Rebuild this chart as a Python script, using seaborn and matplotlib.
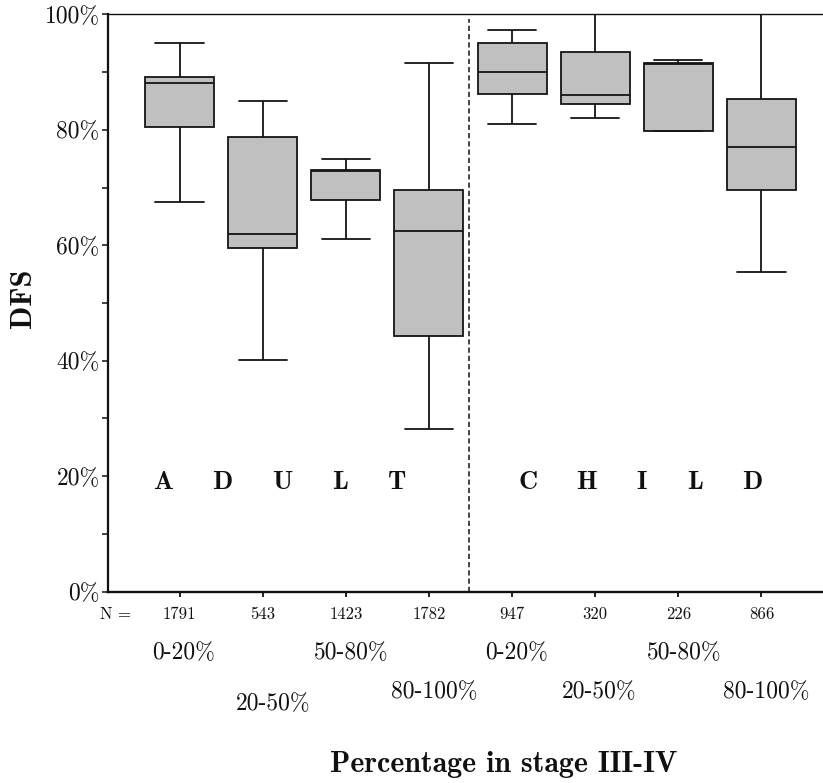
import numpy as np
import pandas as pd
import matplotlib
matplotlib.use("Agg")
import matplotlib.pyplot as plt
import seaborn as sns
from matplotlib.ticker import MultipleLocator, PercentFormatter

# ---------------- data ----------------
cohorts = ["ADULT", "ADULT", "ADULT", "ADULT", "CHILD", "CHILD", "CHILD", "CHILD"]
stage_ranges = ["0-20%", "20-50%", "50-80%", "80-100%", "0-20%", "20-50%", "50-80%", "80-100%"]
n_patients = [1791, 543, 1423, 1782, 947, 320, 226, 866]
dfs_min = [67.5, 40.2, 61.1, 28.1, 81.0, 82.1, 79.8, 55.3]
dfs_q1 = [80.5, 59.5, 67.9, 44.2, 86.2, 84.4, 79.8, 69.5]
dfs_median = [88.1, 61.9, 72.9, 62.5, 90.0, 86.0, 91.4, 77.0]
dfs_q3 = [89.2, 78.7, 73.0, 69.6, 95.0, 93.4, 91.6, 85.4]
dfs_max = [95.0, 85.0, 74.9, 91.5, 97.3, 100.0, 92.1, 100.0]
y_ticks = [0, 20, 40, 60, 80, 100]

groups = [f"{c} {r}" for c, r in zip(cohorts, stage_ranges)]
rows = []
for g, a, b, c, d, e in zip(groups, dfs_min, dfs_q1, dfs_median, dfs_q3, dfs_max):
    for v in (a, b, c, d, e):
        rows.append({"group": g, "dfs": v})
df = pd.DataFrame(rows)

# ---------------- style ----------------
sns.set_style("ticks")
plt.rcParams["font.family"] = ["cmr10", "DejaVu Serif"]
plt.rcParams["axes.unicode_minus"] = False
plt.rcParams["axes.edgecolor"] = "#111111"

W, H = 823, 783
fig = plt.figure(figsize=(W / 100, H / 100), dpi=100)
ax_left, ax_right, ax_top, ax_bot = 108, 823, 14.3, 591.7
ax = fig.add_axes([ax_left / W, 1 - ax_bot / H, (ax_right - ax_left) / W, (ax_bot - ax_top) / H])

sns.boxplot(
    data=df, x="group", y="dfs", order=groups,
    color="#c0c0c0", saturation=1, width=0.83, whis=(0, 100),
    showfliers=False, linecolor="#151515", linewidth=1.3,
    capwidths=0.58, ax=ax,
)

ax.set_xlim(-0.86, 7.74)
ax.set_ylim(0, 100)

# dashed separator between the two cohorts
ax.vlines(3.48, 0, 99.2, colors="#111111", linewidth=1.1, linestyles=(0, (3.4, 2.0)))

# spines
ax.spines["right"].set_visible(False)
ax.spines["top"].set_linewidth(1.0)
ax.spines["left"].set_linewidth(1.6)
ax.spines["bottom"].set_linewidth(1.7)

# ticks
ax.set_xticks(range(len(groups)))
ax.set_xticklabels([str(n) for n in n_patients])
ax.yaxis.set_major_locator(MultipleLocator(20))
ax.yaxis.set_minor_locator(MultipleLocator(10))
ax.set_yticks(y_ticks)
ax.yaxis.set_major_formatter(PercentFormatter(xmax=100, decimals=0))
ax.tick_params(axis="x", direction="out", length=3.8, width=1.3, pad=7, labelsize=12, colors="#111111")
ax.tick_params(axis="y", which="both", direction="out", length=4, width=1.1, pad=2, labelsize=17, colors="#111111")
ax.set_xlabel("")
ax.set_ylabel("")

xt = ax.get_xaxis_transform()
def ay(px):
    return (ax_bot - px) / (ax_bot - ax_top)

# "N =" prefix for the counts row
ax.text(-0.774, ay(614), "N =", transform=xt, ha="center", va="center",
        fontsize=12, clip_on=False, color="#111111")

# stage-range labels in two staggered rows
label_nudge = [0.05, 0.13, 0.065, 0.06, 0.06, 0.05, 0.07, 0.06]
label_rowy = [653, 704, 653, 692, 653, 692, 653, 692]
for i, (lab, dx, py) in enumerate(zip(stage_ranges, label_nudge, label_rowy)):
    ax.text(i + dx, ay(py), lab, transform=xt, ha="center", va="center",
            fontsize=17, clip_on=False, color="#111111")

# cohort words spelled out inside the plot
letters = list("ADULT") + list("CHILD")
letter_x = [-0.20, 0.51, 1.24, 1.93, 2.62, 4.19, 4.89, 5.56, 6.20, 6.89]
for ch, lx in zip(letters, letter_x):
    ax.text(lx, 17.8, ch, ha="center", va="baseline", fontsize=19,
            family=["cmb10", "DejaVu Serif"], color="#111111")

# axis titles
fig.text(24 / W, 1 - 298 / H, "DFS", rotation=90, ha="center", va="center",
         fontsize=22, family=["cmb10", "DejaVu Serif"], color="#111111")
fig.text(504 / W, 1 - 772 / H, "Percentage in stage III-IV", ha="center", va="baseline",
         fontsize=21.5, family=["cmb10", "DejaVu Serif"], color="#111111")

fig.savefig("out.png", dpi=100)
